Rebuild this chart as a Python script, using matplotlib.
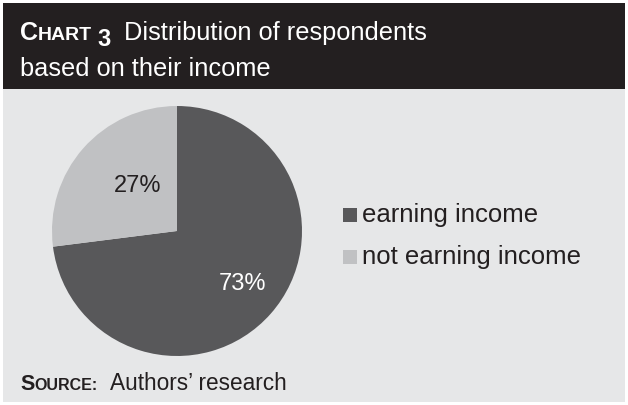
import matplotlib
matplotlib.use("Agg")
import matplotlib.pyplot as plt
from matplotlib.patches import Rectangle

categories = ["earning income", "not earning income"]
values = [73, 27]
labels = ["73%", "27%"]
colors = ["#58585a", "#c0c1c3"]

title_line1 = "Distribution of respondents"
title_line2 = "based on their income"
source_text = "Authors\u2019 research"

FONT = "Liberation Sans"
INK = "#231f20"

W, H = 628, 405
fig = plt.figure(figsize=(W / 100, H / 100), dpi=100)
fig.patch.set_facecolor("white")

def px(x, y):
    return x / W, 1 - y / H

# background panels
fig.patches.append(Rectangle(px(3, 402), 622 / W, 313 / H, transform=fig.transFigure,
                             facecolor="#e6e7e8", edgecolor="none", zorder=-2))
fig.patches.append(Rectangle(px(3, 89), 622 / W, 86 / H, transform=fig.transFigure,
                             facecolor=INK, edgecolor="none", zorder=-1))

renderer = fig.canvas.get_renderer()

def put(x, y, t, size, weight="normal", color="white"):
    tx = fig.text(*px(x, y), t, fontsize=size, fontweight=weight, color=color,
                  family=FONT, ha="left", va="baseline")
    return x + tx.get_window_extent(renderer).width

# Title
x = put(20, 40, "C", 18, "bold")
x = put(x, 40, "HART", 14, "bold")
put(x + 5, 46, "3", 17, "bold")
put(124, 40, title_line1, 18.3)
put(20, 76, title_line2, 18.3)

# Source
x = put(20, 390, "S", 15.5, "bold", INK)
x = put(x, 390, "OURCE:", 11.5, "bold", INK)
put(110, 390, source_text, 16.3, "normal", INK)

# Pie
cx, cy, r = 177, 231, 125
ax = fig.add_axes([(cx - r) / W, 1 - (cy + r) / H, 2 * r / W, 2 * r / H])
wedges, texts = ax.pie(values, colors=colors, startangle=90, counterclock=False,
                       wedgeprops=dict(linewidth=0))
ax.set_aspect("equal")
ax.set_xlim(-1, 1)
ax.set_ylim(-1, 1)
ax.axis("off")
ax.text(0.528, -0.424, labels[0], fontsize=17, family=FONT, color="white",
        ha="center", va="center")
ax.text(-0.312, 0.36, labels[1], fontsize=17, family=FONT, color=INK,
        ha="center", va="center")

# Legend (manual)
for i, (cat, col) in enumerate(zip(categories, colors)):
    ytop = 208 + 42 * i
    fig.patches.append(Rectangle(px(343, ytop + 14), 14 / W, 14 / H,
                                 transform=fig.transFigure, facecolor=col,
                                 edgecolor="none"))
    fig.text(*px(362, ytop + 14), cat, fontsize=18.5, family=FONT, color=INK,
             ha="left", va="baseline")

fig.savefig("out.png", dpi=100, facecolor=fig.get_facecolor())
